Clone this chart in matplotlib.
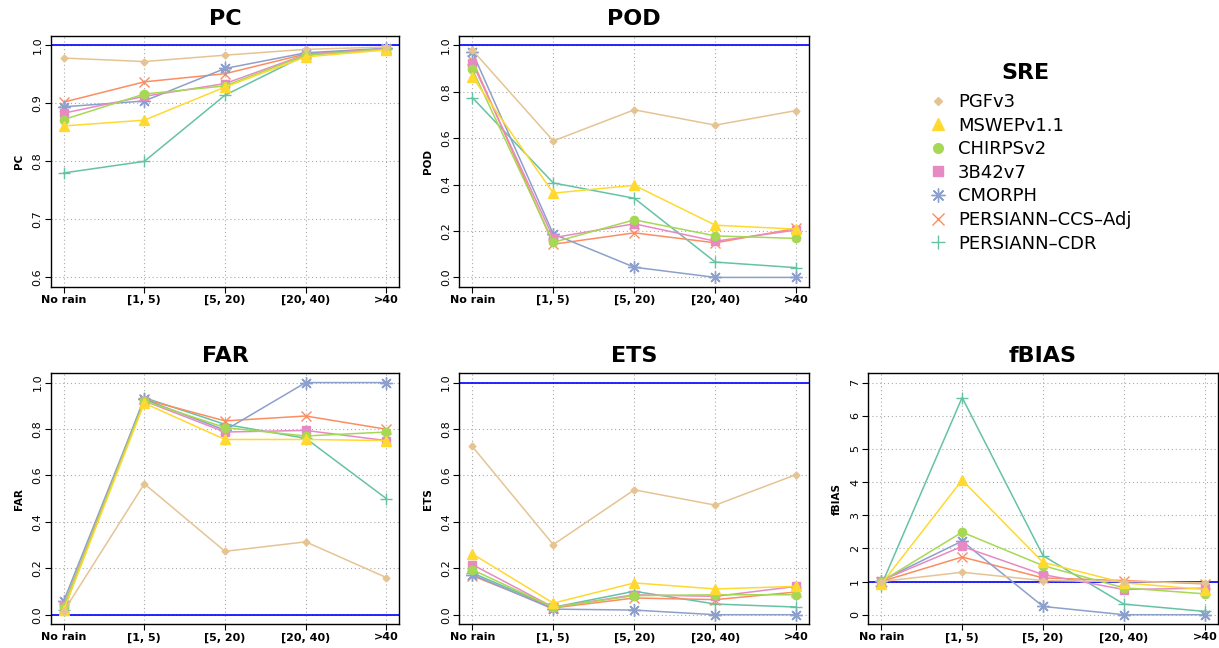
import numpy as np
import matplotlib
matplotlib.use('Agg')
import matplotlib.pyplot as plt
from matplotlib.lines import Line2D

# rainfall classes (mm/day)
classes = ['No rain', '[1, 5)', '[5, 20)', '[20, 40)', '>40']

products = ['PGFv3', 'MSWEPv1.1', 'CHIRPSv2', '3B42v7', 'CMORPH',
            'PERSIANN\u2013CCS\u2013Adj', 'PERSIANN\u2013CDR']

# values, one row per product (same order as above)
pc = [
    [0.978, 0.972, 0.983, 0.993, 0.997],
    [0.861, 0.871, 0.928, 0.980, 0.992],
    [0.872, 0.916, 0.930, 0.983, 0.993],
    [0.883, 0.912, 0.934, 0.984, 0.994],
    [0.894, 0.904, 0.960, 0.987, 0.995],
    [0.902, 0.937, 0.951, 0.985, 0.994],
    [0.780, 0.800, 0.914, 0.983, 0.994],
]
pod = [
    [0.980, 0.588, 0.722, 0.656, 0.719],
    [0.864, 0.363, 0.397, 0.225, 0.208],
    [0.897, 0.151, 0.248, 0.179, 0.168],
    [0.925, 0.171, 0.231, 0.156, 0.204],
    [0.971, 0.187, 0.044, 0.000, 0.000],
    [0.937, 0.143, 0.192, 0.149, 0.211],
    [0.775, 0.407, 0.341, 0.066, 0.042],
]
far = [
    [0.014, 0.564, 0.273, 0.314, 0.160],
    [0.020, 0.911, 0.755, 0.755, 0.750],
    [0.035, 0.921, 0.806, 0.770, 0.787],
    [0.040, 0.921, 0.787, 0.794, 0.750],
    [0.058, 0.928, 0.795, 1.000, 1.000],
    [0.030, 0.928, 0.835, 0.856, 0.799],
    [0.020, 0.935, 0.820, 0.760, 0.500],
]
ets = [
    [0.725, 0.302, 0.538, 0.472, 0.604],
    [0.262, 0.050, 0.137, 0.111, 0.122],
    [0.194, 0.032, 0.082, 0.086, 0.086],
    [0.216, 0.032, 0.086, 0.079, 0.122],
    [0.173, 0.024, 0.020, 0.000, 0.000],
    [0.168, 0.029, 0.072, 0.065, 0.098],
    [0.180, 0.032, 0.101, 0.046, 0.033],
]
fbias = [
    [1.00, 1.28, 1.03, 1.00, 0.96],
    [0.92, 4.06, 1.58, 0.96, 0.76],
    [1.00, 2.49, 1.48, 0.81, 0.63],
    [1.03, 2.06, 1.21, 0.76, 0.80],
    [1.03, 2.22, 0.25, 0.00, 0.00],
    [1.00, 1.74, 1.11, 1.03, 0.93],
    [0.88, 6.55, 1.78, 0.32, 0.10],
]

colors = ['#E5C494', '#FFD92F', '#A6D854', '#E78AC3', '#8DA0CB', '#FC8D62', '#66C2A5']
markers = ['D', '^', 'o', 's', (8, 2, 0), 'x', '+']
msizes = [3.5, 7, 6, 6, 9, 7, 9]

# name, data, y limits, y ticks, reference line, axes box [l, t, w, h] in px
W, H = 1219, 648
panels = [
    ('PC', pc, (0.6, 1.0), np.arange(0.6, 1.01, 0.1), 1.0, (50.7, 36, 348.6, 250.7)),
    ('POD', pod, (0.0, 1.0), np.arange(0, 1.01, 0.2), 1.0, (459.3, 36, 350, 250.7)),
    ('FAR', far, (0.0, 1.0), np.arange(0, 1.01, 0.2), 0.0, (50.7, 373.3, 348.6, 250.7)),
    ('ETS', ets, (0.0, 1.0), np.arange(0, 1.01, 0.2), 1.0, (459.3, 373.3, 350, 250.7)),
    ('fBIAS', fbias, (0.0, 7.0), np.arange(0, 7.1, 1), 1.0, (868.3, 373.3, 349.4, 250.7)),
]

fig = plt.figure(figsize=(W / 100, H / 100), dpi=100)
x = np.arange(1, len(classes) + 1)

for name, data, ylim, yticks, ref, box in panels:
    l, t, w, h = box
    ax = fig.add_axes([l / W, 1 - (t + h) / H, w / W, h / H])
    pad = 0.04 * (ylim[1] - ylim[0])
    ax.set_ylim(ylim[0] - pad, ylim[1] + pad)
    ax.set_xlim(1 - 0.16, 5 + 0.16)
    for xv in x:
        ax.axvline(xv, color='#AAAAAA', lw=0.8, ls=(0, (1, 2.5)), zorder=0)
    for yv in yticks:
        ax.axhline(yv, color='#AAAAAA', lw=0.8, ls=(0, (1, 2.5)), zorder=0)
    ax.axhline(ref, color='blue', lw=1.2, zorder=1)
    for i in reversed(range(len(products))):
        ax.plot(x, data[i], color=colors[i], lw=1.1, marker=markers[i],
                ms=msizes[i], mew=1.0, zorder=2)
    ax.set_xticks(x)
    ax.set_xticklabels(classes, fontsize=8, fontweight='bold')
    ax.set_yticks(yticks)
    ax.set_yticklabels(['%g' % v if name == 'fBIAS' else '%.1f' % v for v in yticks],
                       fontsize=8, rotation=90, va='center')
    ax.tick_params(length=4, width=0.8, pad=2)
    ax.set_ylabel(name, fontsize=7.5, fontweight='bold', labelpad=6)
    ax.set_title(name, fontsize=16, fontweight='bold', pad=8)
    for s in ax.spines.values():
        s.set_linewidth(1.0)

# legend in the empty top-right slot
fig.text(1025 / W, 1 - 73 / H, 'SRE', fontsize=16, fontweight='bold',
         ha='center', va='center')
handles = [Line2D([], [], color=colors[i], marker=markers[i], ls='none',
                  ms=msizes[i] + 1, mew=1.0) for i in range(len(products))]
fig.legend(handles, products, loc='upper left', bbox_to_anchor=(929 / W, 1 - 93 / H),
           frameon=False, fontsize=13, handlelength=1.0, borderpad=0,
           handletextpad=0.6, labelspacing=0.31, borderaxespad=0)

fig.savefig('out.png', dpi=100)
